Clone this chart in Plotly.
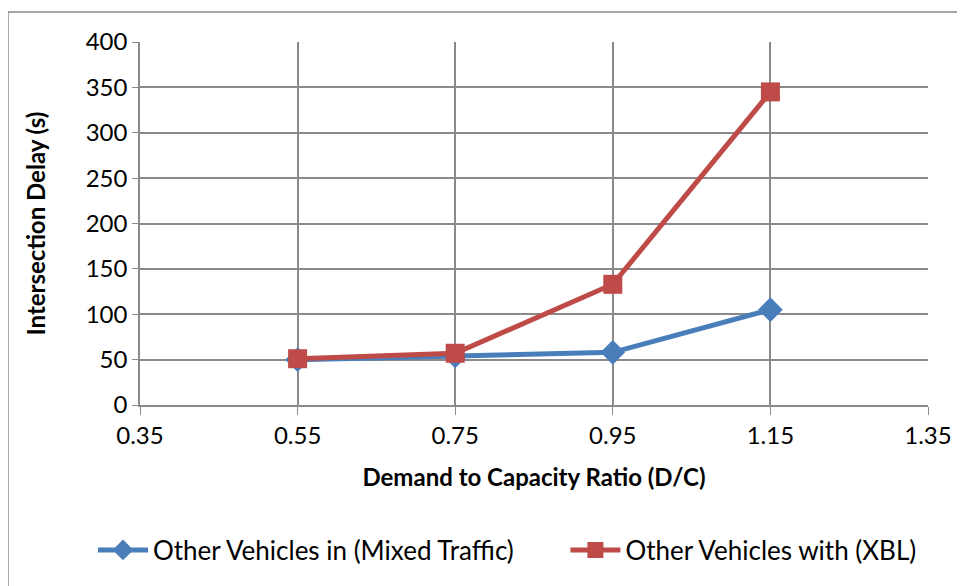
import plotly.graph_objects as go

# Demand to capacity ratio and intersection delay (s)
dc_ratio = [0.55, 0.75, 0.95, 1.15]
mixed_delay = [50, 54, 58, 105]
xbl_delay = [51, 57, 133, 345]

font_name = "Lato"
gap = "\u00a0" * 7

fig = go.Figure()
fig.add_trace(go.Scatter(
    x=dc_ratio, y=mixed_delay, name="Other Vehicles in (Mixed Traffic)" + gap,
    mode="lines+markers",
    line=dict(color="#4A7EBB", width=5),
    marker=dict(symbol="diamond", size=19, color="#4A7EBB"),
))
fig.add_trace(go.Scatter(
    x=dc_ratio, y=xbl_delay, name="Other Vehicles with (XBL)",
    mode="lines+markers",
    line=dict(color="#BE4B48", width=5),
    marker=dict(symbol="square", size=19, color="#BE4B48"),
))

# the page body has an 8px margin, so the figure is offset by 8px
fig_w, fig_h = 957, 578
m_l, m_r, m_t, m_b = 132, 37, 34, 181
plot_w = fig_w - m_l - m_r
plot_h = fig_h - m_t - m_b

fig.update_layout(
    width=fig_w, height=fig_h,
    margin=dict(l=m_l, r=m_r, t=m_t, b=m_b),
    paper_bgcolor="white", plot_bgcolor="white",
    font=dict(family=font_name, size=24, color="black"),
    showlegend=True,
    legend=dict(
        orientation="h", x=(93 - 140) / plot_w, xanchor="left",
        y=(405 - 550) / plot_h, yanchor="middle",
        font=dict(size=26), itemwidth=50,
    ),
    xaxis=dict(
        range=[0.35, 1.35], tickvals=[0.35, 0.55, 0.75, 0.95, 1.15, 1.35],
        ticktext=["0.35", "0.55", "0.75", "0.95", "1.15", "1.35"],
        showgrid=True, gridcolor="#8a8a8a", gridwidth=1.5,
        showline=True, linecolor="#8a8a8a", linewidth=1.5,
        ticks="outside", ticklen=8, tickcolor="#8a8a8a",
        zeroline=False, tickfont=dict(size=24),
        title=dict(text="<b>Demand to Capacity Ratio (D/C)</b>", font=dict(size=24), standoff=22),
    ),
    yaxis=dict(
        range=[0, 400], dtick=50,
        showgrid=True, gridcolor="#8a8a8a", gridwidth=1.5,
        showline=True, linecolor="#8a8a8a", linewidth=1.5,
        ticks="outside", ticklen=6, tickcolor="#8a8a8a",
        zeroline=False, tickfont=dict(size=24),
        title=dict(text="<b>Intersection Delay (s)</b>", font=dict(size=24), standoff=33),
    ),
)

# chart border (Excel-style), right and bottom edges fall outside the window
fig.add_shape(
    type="rect", xref="paper", yref="paper",
    x0=(0 - m_l) / plot_w, x1=(fig_w + 10 - m_l) / plot_w,
    y0=-(m_b + 10) / plot_h, y1=(fig_h - m_b - 4) / plot_h,
    line=dict(color="#8a8a8a", width=1.5), layer="below",
)

fig.write_html("out.html")
